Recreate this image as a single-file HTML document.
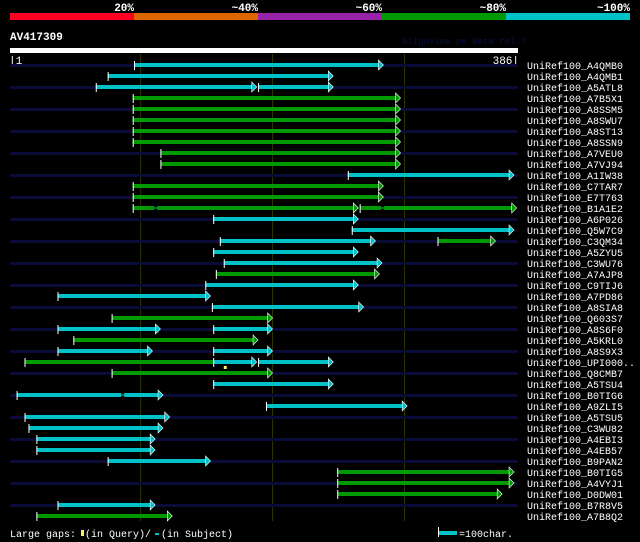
<!DOCTYPE html>
<html><head><meta charset="utf-8"><style>
body{margin:0;background:#000;width:640px;height:542px;overflow:hidden}
svg{display:block}
text{font-family:"Liberation Mono",monospace;fill:#fff}
</style></head><body>
<svg id="chart" width="640" height="542" xmlns="http://www.w3.org/2000/svg">
<g>
<rect x="10" y="13" width="124" height="7" fill="#ff0022"/>
<rect x="134" y="13" width="124" height="7" fill="#dd6600"/>
<rect x="258" y="13" width="124" height="7" fill="#9922aa"/>
<rect x="382" y="13" width="124" height="7" fill="#009900"/>
<rect x="506" y="13" width="124" height="7" fill="#00c0c8"/>
<text x="134" y="11" text-anchor="end" font-size="11" font-weight="bold">20%</text>
<text x="258" y="11" text-anchor="end" font-size="11" font-weight="bold">~40%</text>
<text x="382" y="11" text-anchor="end" font-size="11" font-weight="bold">~60%</text>
<text x="506" y="11" text-anchor="end" font-size="11" font-weight="bold">~80%</text>
<text x="630" y="11" text-anchor="end" font-size="11" font-weight="bold">~100%</text>
</g>
<text x="10" y="40" font-size="11" font-weight="bold">AV417309</text>
<text x="402" y="44" font-size="9" style="fill:#0a1040">AlignView.pm Beta rel.7</text>
<rect x="10" y="48" width="508" height="5" fill="#fff"/>
<text x="9" y="64" font-size="11">|1</text>
<text x="519" y="64" font-size="11" text-anchor="end">386|</text>
<g id="grid"></g>
<g id="rows"></g>
<g>
<text x="10" y="537" font-size="10">Large gaps:</text>
<rect x="81" y="530" width="3" height="6" fill="#ffee66"/>
<text x="85" y="537" font-size="10">(in Query)/</text>
<rect x="155" y="533" width="4" height="2" fill="#00c0c8"/>
<text x="161" y="537" font-size="10">(in Subject)</text>
<rect x="438" y="527" width="1" height="10" fill="#fff"/>
<rect x="439" y="531" width="18" height="4" fill="#00c0c8"/>
<text x="459" y="537" font-size="10">=100char.</text>
</g>
</svg>
<script>
const names=["A4QMB0","A4QMB1","A5ATL8","A7B5X1","A8SSM5","A8SWU7","A8ST13","A8SSN9","A7VEU0","A7VJ94","A1IW38","C7TAR7","E7T763","B1A1E2","A6P026","Q5W7C9","C3QM34","A5ZYU5","C3WU76","A7AJP8","C9TIJ6","A7PD86","A8SIA8","Q603S7","A8S6F0","A5KRL0","A8S9X3","UPI000..","Q8CMB7","A5TSU4","B0TIG6","A9ZLI5","A5TSU5","C3WU82","A4EBI3","A4EB57","B9PAN2","B0TIG5","A4VYJ1","D0DW01","B7R8V5","A7B8Q2"];
const segRow=[0,1,2,2,3,4,5,6,7,8,9,10,11,12,13,13,14,15,16,16,17,18,19,20,21,22,23,24,24,25,26,26,27,27,27,28,29,30,31,32,33,34,35,36,37,38,39,40,41];
const segStart=[95,75,66,189,94,94,94,94,94,115,115,257,94,94,94,266,155,260,160,325,155,163,157,149,37,154,78,37,155,49,37,155,12,155,189,78,155,6,195,12,15,21,21,75,249,249,249,37,21];
const segEnd=[284,246,188,246,297,297,297,297,297,297,297,383,284,284,265,385,265,383,278,369,265,283,281,265,153,269,200,115,200,189,109,200,155,188,246,200,246,117,302,122,117,111,111,153,383,383,374,111,124];
const segColor=["c","c","c","c","g","g","g","g","g","g","g","c","g","g","g","g","c","c","c","g","c","c","g","c","c","c","g","c","c","g","c","c","g","c","c","g","c","c","c","c","c","c","c","c","g","g","g","c","g"];
const segArrow=[1,1,1,1,1,1,1,1,1,1,1,1,1,1,1,1,1,1,1,1,1,1,1,1,1,1,1,1,1,1,1,1,0,1,1,1,1,1,1,1,1,1,1,1,1,1,1,1,1];
const subjGapRow=[13,13,30];
const subjGapPos=[111,283,86];
const queryGapRow=[27];
const queryGapPos=[163];
const gridTicks=[100,200,300];
const NS="http://www.w3.org/2000/svg";
const xs=r=>10+(r-1)*508/385;
const rowY=i=>65+i*11;
const col={c:"#00c0c8",g:"#009900"};
function mk(t,a,p){const e=document.createElementNS(NS,t);for(const k in a)e.setAttribute(k,a[k]);p.appendChild(e);return e;}
const grid=document.getElementById('grid');
gridTicks.forEach(t=>{
  const l=mk('line',{x1:xs(t),x2:xs(t),y1:54,y2:521,stroke:"#333300","stroke-width":1},grid);
  
  
});
const rows=document.getElementById('rows');
names.forEach((n,i)=>{
  const y=rowY(i);
  if(i%2===0){
    const b=mk('rect',{x:10,y:y-1,width:508,height:3,fill:"#0a0c38"},rows);
    
    
  }
  const t=mk('text',{x:527,y:y+4,"font-size":"10"},rows);
  t.textContent="UniRef100_"+n;
  
  
});
segRow.forEach((r,k)=>{
  const y=rowY(r),x1=xs(segStart[k]),x2=xs(segEnd[k]),c=col[segColor[k]];
  const g=mk('g',{},rows);
  
  
  mk('rect',{x:x1,y:y-2,width:Math.max(0,x2-x1-(segArrow[k]?4:0)),height:4,fill:c},g);
  mk('rect',{x:x1,y:y-4,width:1,height:9,fill:"#fff"},g);
  if(segArrow[k]) mk('polygon',{points:`${x2-5},${y-5} ${x2},${y} ${x2-5},${y+5}`,fill:c,stroke:"#fff","stroke-width":0.6},g);
});
subjGapRow.forEach((r,k)=>{
  const y=rowY(r),x=xs(subjGapPos[k]);
  const m=mk('rect',{x:x-1,y:y-2,width:3,height:4,fill:"#000"},rows);
  
  
  mk('rect',{x:x-1,y:y-1,width:3,height:2,fill:"#0a6a50"},rows);
});
queryGapRow.forEach((r,k)=>{
  const y=rowY(r),x=xs(queryGapPos[k]);
  const m=mk('rect',{x:x,y:y+4,width:3,height:3,fill:"#ffee66"},rows);
  
  
});
</script>
</body></html>
